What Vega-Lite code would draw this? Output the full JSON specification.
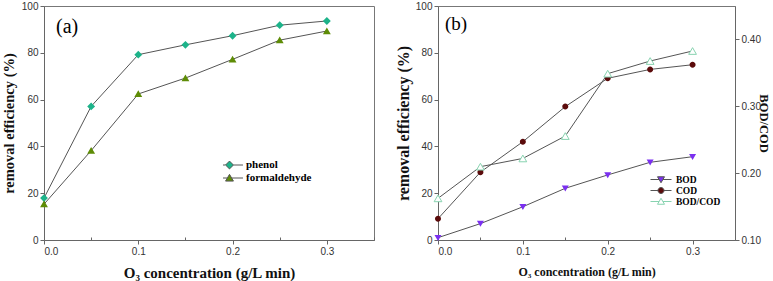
{
  "$schema": "https://vega.github.io/schema/vega-lite/v6.json",
  "padding": {"left": 0, "top": 0, "right": 0, "bottom": 0},
  "spacing": 19,
  "datasets": {
    "a": [
      {"x": 0, "series": "phenol", "v": 17.9},
      {"x": 0.05, "series": "phenol", "v": 57.1},
      {"x": 0.1, "series": "phenol", "v": 79.2},
      {"x": 0.15, "series": "phenol", "v": 83.4},
      {"x": 0.2, "series": "phenol", "v": 87.3},
      {"x": 0.25, "series": "phenol", "v": 91.8},
      {"x": 0.3, "series": "phenol", "v": 93.6},
      {"x": 0, "series": "formaldehyde", "v": 15.3},
      {"x": 0.05, "series": "formaldehyde", "v": 38.2},
      {"x": 0.1, "series": "formaldehyde", "v": 62.4},
      {"x": 0.15, "series": "formaldehyde", "v": 69.2},
      {"x": 0.2, "series": "formaldehyde", "v": 77.2},
      {"x": 0.25, "series": "formaldehyde", "v": 85.4},
      {"x": 0.3, "series": "formaldehyde", "v": 89.3}
    ],
    "b": [
      {"x": 0, "series": "BOD", "v": 1.0},
      {"x": 0.05, "series": "BOD", "v": 7.0},
      {"x": 0.1, "series": "BOD", "v": 14.2},
      {"x": 0.15, "series": "BOD", "v": 22.1},
      {"x": 0.2, "series": "BOD", "v": 27.8},
      {"x": 0.25, "series": "BOD", "v": 33.2},
      {"x": 0.3, "series": "BOD", "v": 35.6},
      {"x": 0, "series": "COD", "v": 9.1},
      {"x": 0.05, "series": "COD", "v": 29.0},
      {"x": 0.1, "series": "COD", "v": 42.0},
      {"x": 0.15, "series": "COD", "v": 57.0},
      {"x": 0.2, "series": "COD", "v": 69.1},
      {"x": 0.25, "series": "COD", "v": 72.9},
      {"x": 0.3, "series": "COD", "v": 74.9}
    ],
    "r": [
      {"x": 0, "series": "BOD/COD", "v": 0.1623},
      {"x": 0.05, "series": "BOD/COD", "v": 0.2097},
      {"x": 0.1, "series": "BOD/COD", "v": 0.222},
      {"x": 0.15, "series": "BOD/COD", "v": 0.2555},
      {"x": 0.2, "series": "BOD/COD", "v": 0.3488},
      {"x": 0.25, "series": "BOD/COD", "v": 0.3677},
      {"x": 0.3, "series": "BOD/COD", "v": 0.3827}
    ],
    "la": [{"x": 0.0127, "y": 91, "t": "(a)"}],
    "lb": [{"x": 0.0082, "y": 92.3, "t": "(b)"}]
  },
  "hconcat": [
    {
      "width": 330,
      "height": 234,
      "layer": [
        {
          "data": {"name": "a"},
          "mark": {"type": "line", "color": "#555", "strokeWidth": 1},
          "encoding": {
            "x": {"field": "x", "type": "quantitative", "scale": {"domain": [0, 0.35], "nice": false, "zero": false},
              "axis": {"values": [0, 0.05, 0.1, 0.15, 0.2, 0.25, 0.3, 0.35], "labelOverlap": false,
                "labelExpr": "abs(datum.value*10-round(datum.value*10))<0.001 ? format(datum.value,'.1f') : ''",
                "title": "O₃ concentration (g/L min)", "titleFontSize": 15, "titlePadding": 9,
                "encoding": {"ticks": {"y2": {"value": {"expr": "abs(datum.value*10-round(datum.value*10))<0.001 ? 4 : -3"}}}}}},
            "y": {"field": "v", "type": "quantitative", "scale": {"domain": [0, 100], "nice": false, "zero": false},
              "axis": {"values": [0, 10, 20, 30, 40, 50, 60, 70, 80, 90, 100], "labelOverlap": false,
                "labelExpr": "datum.value % 20 === 0 ? datum.label : ''",
                "title": "removal efficiency (%)", "titleFontSize": 14.5, "titlePadding": 5,
                "encoding": {"ticks": {"x2": {"value": {"expr": "datum.value % 20 === 0 ? -4 : 3"}}}}}},
            "detail": {"field": "series"}
          }
        },
        {
          "data": {"name": "a"},
          "mark": {"type": "point", "filled": true, "size": 126, "opacity": 1},
          "encoding": {
            "x": {"field": "x", "type": "quantitative", "scale": {"domain": [0, 0.35], "nice": false, "zero": false}},
            "y": {"field": "v", "type": "quantitative", "scale": {"domain": [0, 100], "nice": false, "zero": false}},
            "fill": {"field": "series", "type": "nominal",
              "scale": {"domain": ["phenol", "formaldehyde"], "range": ["#1db38a", "#5e8c06"]},
              "legend": {"orient": "none", "legendX": 179, "legendY": 152.5, "title": null, "symbolSize": 126,
                "labelOffset": 10, "rowPadding": 0, "clipHeight": 13, "padding": 0, "labelFont": "Liberation Serif", "labelFontSize": 11,
                "labelFontWeight": "bold", "labelColor": "#000", "symbolStrokeWidth": 1, "symbolStrokeColor": "#555",
                "encoding": {"symbols": {"stroke": {"value": "#555"}}}}},
            "shape": {"field": "series", "type": "nominal",
              "scale": {"domain": ["phenol", "formaldehyde"],
                "range": ["M-2.4,0H-0.7M0.7,0H2.4M0,-0.7L0.7,0L0,0.7L-0.7,0Z", "M-2.4,0H-0.38M0.38,0H2.4M0,-0.65L0.7,0.55L-0.7,0.55Z"]}}
          }
        },
        {
          "data": {"name": "la"},
          "mark": {"type": "text", "font": "Liberation Serif", "fontSize": 20, "align": "left", "baseline": "middle", "color": "#000"},
          "encoding": {
            "x": {"field": "x", "type": "quantitative", "scale": {"domain": [0, 0.35], "nice": false, "zero": false}},
            "y": {"field": "y", "type": "quantitative", "scale": {"domain": [0, 100], "nice": false, "zero": false}},
            "text": {"field": "t"}
          }
        }
      ]
    },
    {
      "width": 297,
      "height": 234,
      "layer": [
        {
          "layer": [
            {
              "data": {"name": "b"},
              "mark": {"type": "line", "color": "#555", "strokeWidth": 1},
              "encoding": {
                "x": {"field": "x", "type": "quantitative", "scale": {"domain": [0, 0.35], "nice": false, "zero": false},
                  "axis": {"values": [0, 0.05, 0.1, 0.15, 0.2, 0.25, 0.3, 0.35], "labelOverlap": false,
                    "labelExpr": "abs(datum.value*10-round(datum.value*10))<0.001 ? format(datum.value,'.1f') : ''",
                    "title": "O₃ concentration (g/L min)", "titleFontSize": 12, "titlePadding": 10,
                    "encoding": {"ticks": {"y2": {"value": {"expr": "abs(datum.value*10-round(datum.value*10))<0.001 ? 4 : -3"}}}}}},
                "y": {"field": "v", "type": "quantitative", "scale": {"domain": [0, 100], "nice": false, "zero": false},
                  "axis": {"orient": "left", "values": [0, 10, 20, 30, 40, 50, 60, 70, 80, 90, 100], "labelOverlap": false,
                    "labelExpr": "datum.value % 20 === 0 ? datum.label : ''",
                    "title": "removal efficiency (%)", "titleFontSize": 16, "titlePadding": 4,
                    "encoding": {"ticks": {"x2": {"value": {"expr": "datum.value % 20 === 0 ? -4 : 3"}}}}}},
                "detail": {"field": "series"}
              }
            },
            {
              "data": {"name": "b"},
              "mark": {"type": "point", "filled": true, "size": 100, "opacity": 1},
              "encoding": {
                "x": {"field": "x", "type": "quantitative", "scale": {"domain": [0, 0.35], "nice": false, "zero": false}},
                "y": {"field": "v", "type": "quantitative", "scale": {"domain": [0, 100], "nice": false, "zero": false}},
                "fill": {"field": "series", "type": "nominal",
                  "scale": {"domain": ["BOD", "COD", "BOD/COD"], "range": ["#7b30f0", "#5b0b0b", "#ffffff"]},
                  "legend": {"orient": "none", "legendX": 217.5, "legendY": 168, "title": null, "symbolSize": 100,
                    "labelOffset": 9.5, "rowPadding": -1.5, "padding": 0, "labelFont": "Liberation Serif", "labelFontSize": 9.5,
                    "labelFontWeight": "bold", "labelColor": "#000", "symbolStrokeWidth": 1, "symbolStrokeColor": "#555",
                    "encoding": {"symbols": {
                      "stroke": {"value": {"expr": "datum.value === 'BOD/COD' ? '#88d3b0' : '#555'"}}}}}},
                "shape": {"field": "series", "type": "nominal",
                  "scale": {"domain": ["BOD", "COD", "BOD/COD"],
                    "range": ["M-2.1,0H-0.38M0.38,0H2.1M0,0.65L0.7,-0.55L-0.7,-0.55Z", "M-2.1,0H-0.6M0.6,0H2.1M-0.6,0A0.6,0.6,0,1,0,0.6,0A0.6,0.6,0,1,0,-0.6,0Z", "M-2.1,0H-0.38M0.38,0H2.1M0,-0.65L0.7,0.55L-0.7,0.55Z"]}}
              }
            },
            {
              "data": {"name": "lb"},
              "mark": {"type": "text", "font": "Liberation Serif", "fontSize": 19, "align": "left", "baseline": "middle", "color": "#000"},
              "encoding": {
                "x": {"field": "x", "type": "quantitative", "scale": {"domain": [0, 0.35], "nice": false, "zero": false}},
                "y": {"field": "y", "type": "quantitative", "scale": {"domain": [0, 100], "nice": false, "zero": false}},
                "text": {"field": "t"}
              }
            }
          ]
        },
        {
          "layer": [
            {
              "data": {"name": "r"},
              "mark": {"type": "line", "color": "#555", "strokeWidth": 1},
              "encoding": {
                "x": {"field": "x", "type": "quantitative", "scale": {"domain": [0, 0.35], "nice": false, "zero": false}},
                "y": {"field": "v", "type": "quantitative", "scale": {"domain": [0.1, 0.45], "nice": false, "zero": false},
                  "axis": {"orient": "right", "values": [0.1, 0.125, 0.15, 0.175, 0.2, 0.225, 0.25, 0.275, 0.3, 0.325, 0.35, 0.375, 0.4, 0.425, 0.45], "labelOverlap": false,
                    "labelExpr": "abs(datum.value*20-round(datum.value*20))<0.001 ? format(datum.value,'.2f') : ''",
                    "title": "BOD/COD", "titleFontSize": 12.5, "titlePadding": -4,
                    "encoding": {"ticks": {"x2": {"value": {"expr": "abs(datum.value*20-round(datum.value*20))<0.001 ? 4 : -3"}}}}}}
              }
            },
            {
              "data": {"name": "r"},
              "mark": {"type": "point", "shape": "triangle-up", "filled": true, "size": 60, "opacity": 1, "fill": "#ffffff", "stroke": "#88d3b0", "strokeWidth": 1},
              "encoding": {
                "x": {"field": "x", "type": "quantitative", "scale": {"domain": [0, 0.35], "nice": false, "zero": false}},
                "y": {"field": "v", "type": "quantitative", "scale": {"domain": [0.1, 0.45], "nice": false, "zero": false}}
              }
            }
          ]
        }
      ],
      "resolve": {"scale": {"y": "independent"}}
    }
  ],
  "resolve": {"scale": {"fill": "independent", "shape": "independent"}, "legend": {"fill": "independent", "shape": "independent"}},
  "config": {
    "view": {"stroke": "#777", "strokeWidth": 1},
    "axis": {"grid": false, "domainColor": "#666", "tickColor": "#666", "labelColor": "#333", "labelFont": "Liberation Sans",
      "labelFontSize": 10, "titleFont": "Liberation Serif", "titleFontWeight": "bold", "titleColor": "#111", "tickSize": 4, "labelPadding": 2}
  }
}
